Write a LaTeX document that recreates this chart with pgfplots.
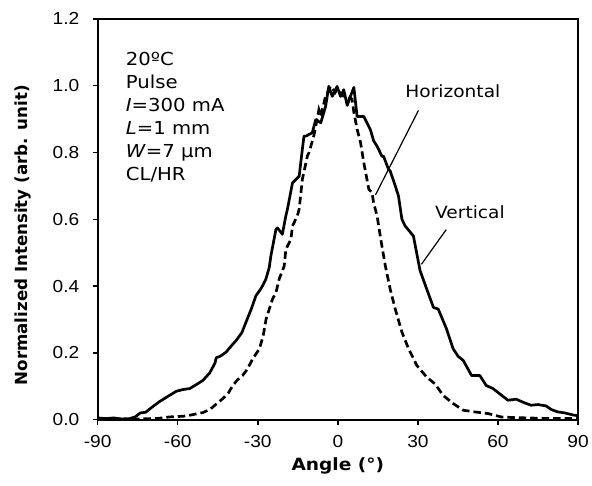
\documentclass[border=0pt]{standalone}
\usepackage{fontspec}
\setmainfont{DejaVu Sans}[FakeStretch=1.1]
\newfontfamily\plainfont{DejaVu Sans}
\newfontfamily\tickfont{Liberation Sans}[FakeStretch=1.1]
\usepackage{pgfplots}
\pgfplotsset{compat=1.18}
\begin{document}
\begin{tikzpicture}
\begin{axis}[
  name=ax,
  scale only axis, width=482bp, height=402bp,
  xmin=-90, xmax=90, ymin=0, ymax=1.2,
  xtick={-90,-60,-30,0,30,60,90},
  xticklabels={-90,-60,-30,0,30,60,90},
  ytick={0,0.2,0.4,0.6,0.8,1.0,1.2},
  yticklabels={0.0,0.2,0.4,0.6,0.8,1.0,1.2},
  xtick pos=bottom, ytick pos=left,
  tick align=outside, major tick length=5bp,
  tick style={line width=1.5bp, black},
  axis line style={line width=2bp},
  ticklabel style={font=\tickfont\fontsize{17.5}{17.5}\selectfont},
  xticklabel style={yshift=-7bp},
  yticklabel style={xshift=-10bp},
  xlabel={Angle (°)},
  ylabel={Normalized Intensity (arb. unit)},
  x label style={at={(axis description cs:0.5,-0.115)}, anchor=center,
    font=\bfseries\fontsize{17}{20}\selectfont},
  y label style={at={(axis description cs:-0.155,0.46)}, anchor=center,
    font=\plainfont\bfseries\fontsize{16.8}{18}\selectfont},
  clip=true,
]
% Vertical (solid)
\addplot[black, line width=2.7bp, line join=round] coordinates {
(-90,0.005) (-87,0.003) (-84,0.005) (-81,0.002) (-78,0.003) (-76,0.008)
(-74,0.02) (-72,0.022) (-70,0.035) (-67,0.053) (-64,0.068) (-60.5,0.085)
(-58,0.09) (-55.5,0.093) (-53,0.105) (-50.6,0.117) (-48,0.14) (-46,0.17)
(-45.6,0.185) (-44,0.19) (-41.9,0.202) (-40,0.22) (-38.1,0.237) (-36,0.26)
(-34.4,0.292) (-32.5,0.33) (-30.7,0.371) (-29,0.39) (-28.2,0.401) (-27,0.42)
(-25.7,0.456) (-25.1,0.49) (-23.2,0.57) (-22.6,0.574) (-20.8,0.555)
(-19.5,0.61) (-18.9,0.63) (-17.0,0.709) (-14.5,0.729) (-13.3,0.81)
(-12.7,0.849) (-12,0.849) (-9.6,0.859) (-8.3,0.898) (-6.4,0.889)
(-4.6,0.938) (-3.4,0.998) (-2.1,0.968) (-0.3,0.998) (1.0,0.968)
(2.2,0.988) (3.5,0.941) (4.7,0.968) (6.0,0.995) (7.2,0.908) (9.7,0.908)
(12.2,0.868) (13.4,0.835) (14.6,0.82) (16.5,0.789) (17.1,0.789)
(19.0,0.749) (19.6,0.745) (21.5,0.70) (22.7,0.67) (24.0,0.60) (25.2,0.58)
(28.3,0.55) (30.8,0.446) (33.3,0.391) (35.8,0.336) (37.6,0.331)
(40.7,0.272) (43.2,0.212) (45,0.19) (47.0,0.177) (50.1,0.132) (53.2,0.132)
(55.6,0.102) (58.1,0.093) (61,0.075) (63.7,0.058) (66.8,0.061) (70,0.05)
(72.4,0.043) (75,0.045) (78.0,0.041) (80,0.03) (82.4,0.023) (85,0.02)
(88.6,0.013) (90,0.012)
};
% Horizontal (dashed)
\addplot[black, line width=2.7bp, dash pattern=on 7.5bp off 4bp] coordinates {
(-90,0.0) (-80,0.0) (-75,0.002) (-70,0.003) (-68,0.003) (-63,0.008)
(-58,0.01) (-55.5,0.013) (-50.6,0.021) (-48,0.03) (-46.8,0.038) (-45,0.05)
(-43.1,0.063) (-41,0.08) (-39.4,0.102) (-37.5,0.12) (-35.7,0.132)
(-34,0.15) (-31.9,0.182) (-29.4,0.212) (-28,0.25) (-26.9,0.301)
(-24.5,0.361) (-23.2,0.38) (-22.0,0.421) (-20.1,0.46) (-19.5,0.51)
(-17.6,0.54) (-17.0,0.58) (-15.2,0.61) (-14.5,0.63) (-13.3,0.72)
(-11.4,0.79) (-10.8,0.80) (-9,0.85) (-7.1,0.928) (-6.4,0.91) (-4.6,0.968)
(-2.7,0.998) (-1,0.98) (-0.3,0.99) (1.5,0.97) (2.9,0.968) (5.3,0.96)
(6.0,0.92) (7.2,0.87) (8.5,0.83) (9.7,0.77) (11.6,0.69) (12.8,0.68)
(13.4,0.649) (14.7,0.61) (15.9,0.549) (16.5,0.52) (17.8,0.460)
(19.6,0.391) (21.5,0.331) (24.0,0.262) (26.5,0.212) (29.6,0.162)
(33.3,0.127) (36.4,0.107) (39.5,0.072) (43.2,0.048) (47.0,0.028)
(51.3,0.023) (56.3,0.018) (61.2,0.008) (66,0.006) (71,0.005) (80,0.003)
(90,0.003)
};
% leader lines
\addplot[black, line width=1.2bp] coordinates {(30.2,0.926) (14.1,0.673)};
\addplot[black, line width=1.2bp] coordinates {(40.6,0.569) (31.3,0.465)};
\node[font=\fontsize{17}{22}\selectfont] at (axis cs:43.1,0.985) {Horizontal};
\node[font=\fontsize{17}{22}\selectfont] at (axis cs:49.5,0.62) {Vertical};
\node[anchor=north west, inner sep=0pt, align=left,
      font=\fontsize{18}{23.2}\selectfont] at (axis cs:-79.5,1.10)
  {20ºC\\Pulse\\\textit{I}=300 mA\\\textit{L}=1 mm\\\textit{W}=7 µm\\CL/HR};
\end{axis}
\path (ax.south west) ++(-98bp,-66bp) coordinate (bl);
\path (ax.north east) ++(12bp,19bp) coordinate (tr);
\path (bl) rectangle (tr);
\end{tikzpicture}
\end{document}
